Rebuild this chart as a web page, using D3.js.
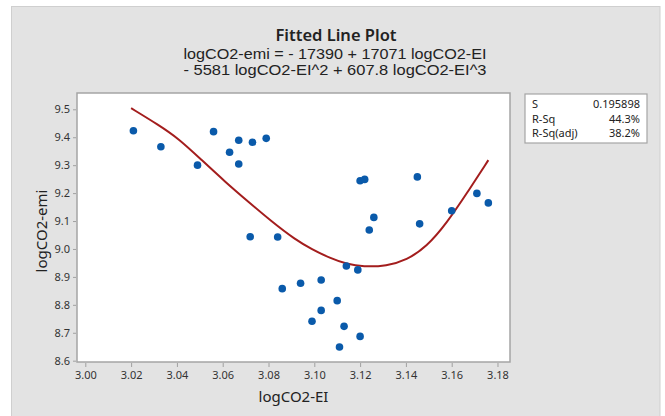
<!DOCTYPE html>
<meta charset="utf-8">
<script src="https://d3js.org/d3.v7.min.js"></script>
<style>
body{margin:0;background:#fff;}
text{font-family:"Noto Sans","Open Sans",sans-serif;}
</style>
<div id="chart"></div>
<script>
// observed points
var xVals = [3.021,3.033,3.049,3.056,3.063,3.067,3.067,3.073,3.079,3.072,3.084,3.086,3.094,3.103,3.099,3.103,3.110,3.114,3.119,3.113,3.111,3.120,3.120,3.122,3.126,3.124,3.145,3.146,3.160,3.171,3.176];
var yVals = [9.423,9.366,9.300,9.420,9.346,9.389,9.304,9.382,9.396,9.044,9.043,8.858,8.877,8.889,8.741,8.780,8.815,8.939,8.925,8.723,8.649,8.687,9.244,9.249,9.113,9.068,9.258,9.090,9.137,9.199,9.165];

// fitted cubic
var fitX = [3.020,3.032,3.0406,3.0508,3.061,3.0712,3.0814,3.0916,3.0989,3.1069,3.1141,3.1214,3.1316,3.1403,3.1491,3.1578,3.1666,3.176];
var fitY = [9.504,9.444,9.396,9.3185,9.241,9.169,9.098,9.034,8.999,8.967,8.946,8.936,8.939,8.960,9.008,9.092,9.199,9.318];

var xTicks = [3.00,3.02,3.04,3.06,3.08,3.10,3.12,3.14,3.16,3.18];
var yTicks = [8.6,8.7,8.8,8.9,9.0,9.1,9.2,9.3,9.4,9.5];

var statNames = ["S","R-Sq","R-Sq(adj)"];
var statValues = ["0.195898","44.3%","38.2%"];

var titleLines = ["logCO2-emi = - 17390 + 17071 logCO2-EI","- 5581 logCO2-EI^2 + 607.8 logCO2-EI^3"];

var W = 665, H = 416;
var plot = {left:77, right:510, top:93, bottom:362};

var svg = d3.select("#chart").append("svg")
  .attr("width",W).attr("height",H);

// grey panel
svg.append("rect")
  .attr("x",11.5).attr("y",6.5).attr("width",660-11.5).attr("height",H)
  .attr("fill","#e3e3e3").attr("stroke","#cfcfcf");

var x = d3.scaleLinear().domain([2.99637,3.18546]).range([plot.left,plot.right]);
var y = d3.scaleLinear().domain([8.5953,9.5584]).range([plot.bottom,plot.top]);

svg.append("rect")
  .attr("x",plot.left).attr("y",plot.top)
  .attr("width",plot.right-plot.left).attr("height",plot.bottom-plot.top)
  .attr("fill","#fff").attr("stroke","#a5a5a5").attr("stroke-width",1.5);

// axes
var xAxis = svg.append("g")
  .attr("transform","translate(0,"+(plot.bottom+1)+")")
  .call(d3.axisBottom(x).tickValues(xTicks).tickFormat(d3.format(".2f")).tickSize(4).tickSizeOuter(0).tickPadding(4));
var yAxis = svg.append("g")
  .attr("transform","translate("+(plot.left-1)+",0)")
  .call(d3.axisLeft(y).tickValues(yTicks).tickFormat(d3.format(".1f")).tickSize(3).tickSizeOuter(0).tickPadding(3));
[xAxis,yAxis].forEach(function(a){
  a.select(".domain").remove();
  a.selectAll(".tick line").attr("stroke","#a0a0a0");
  a.selectAll(".tick text").attr("fill","#333").style("font-size","11px").style("font-family","'Noto Sans',sans-serif");
});

// fitted line
var fit = fitX.map(function(d,i){return [d,fitY[i]];});
svg.append("path")
  .datum(fit)
  .attr("fill","none")
  .attr("stroke","#a31d1d")
  .attr("stroke-width",2)
  .attr("d",d3.line().x(function(d){return x(d[0]);}).y(function(d){return y(d[1]);}).curve(d3.curveBasis));

// points
svg.append("g").selectAll("circle")
  .data(xVals)
  .enter().append("circle")
    .attr("cx",function(d){return x(d);})
    .attr("cy",function(d,i){return y(yVals[i]);})
    .attr("r",3.8)
    .attr("fill","#0a5aaa");

// titles
svg.append("text")
  .attr("x",336).attr("y",40.5)
  .attr("text-anchor","middle")
  .style("font-size","16.5px").style("font-weight","600").attr("fill","#222")
  .text("Fitted Line Plot");
svg.selectAll(".sub")
  .data(titleLines)
  .enter().append("text")
    .attr("class","sub")
    .attr("x",335)
    .attr("y",function(d,i){return 58.5+i*16.5;})
    .attr("text-anchor","middle")
    .attr("textLength",303).attr("lengthAdjust","spacingAndGlyphs")
    .style("font-family","'Liberation Sans',Arial,sans-serif")
    .style("font-size","14.5px").attr("fill","#222")
    .text(function(d){return d;});

// axis titles
svg.append("text")
  .attr("x",(plot.left+plot.right)/2).attr("y",401.5)
  .attr("text-anchor","middle")
  .style("font-size","15px").attr("fill","#222")
  .text("logCO2-EI");
svg.append("text")
  .attr("transform","translate(47,231) rotate(-90)")
  .attr("text-anchor","middle")
  .style("font-size","15px").attr("fill","#222")
  .text("logCO2-emi");

// stats box
svg.append("rect")
  .attr("x",525).attr("y",94).attr("width",122).attr("height",49)
  .attr("fill","#fff").attr("stroke","#a5a5a5").attr("stroke-width",1.2);
statNames.forEach(function(d,i){
  svg.append("text")
    .attr("x",532).attr("y",108+i*14.6)
    .style("font-size","11px").attr("fill","#222")
    .text(d);
  svg.append("text")
    .attr("x",640).attr("y",108+i*14.6)
    .attr("text-anchor","end")
    .style("font-size","11px").attr("fill","#222")
    .text(statValues[i]);
});
</script>
